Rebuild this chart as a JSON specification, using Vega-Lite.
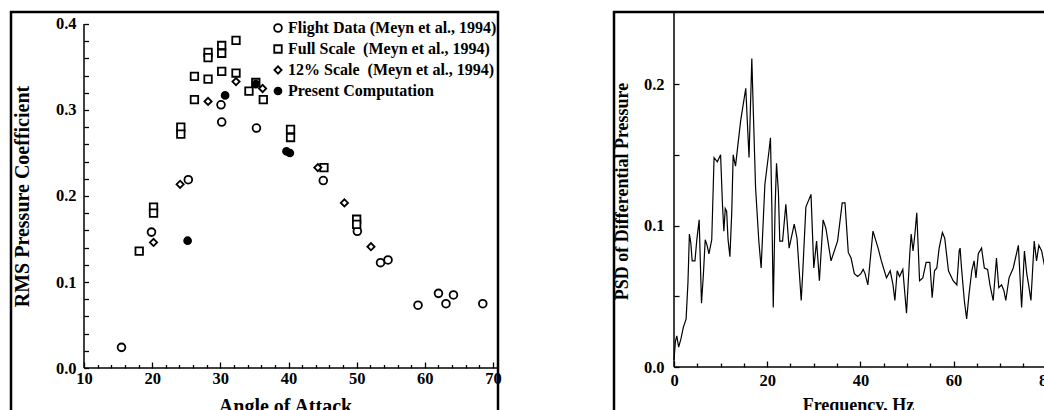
{
  "$schema": "https://vega.github.io/schema/vega-lite/v6.json",
  "background": "white",
  "padding": {"left": 9, "top": 10, "right": 0, "bottom": 0},
  "spacing": 116,
  "bounds": "flush",
  "config": {
    "view": {"stroke": "black", "strokeWidth": 2.5},
    "axis": {
      "grid": false,
      "domain": false,
      "labelOverlap": false,
      "labelFont": "Liberation Serif",
      "labelFontWeight": "bold",
      "labelColor": "black",
      "titleFont": "Liberation Serif",
      "titleFontWeight": "bold",
      "titleColor": "black",
      "tickColor": "black",
      "tickWidth": 1.3
    },
    "legend": {
      "orient": "none",
      "legendX": 259,
      "legendY": 8,
      "padding": 0,
      "labelFont": "Liberation Serif",
      "labelFontWeight": "bold",
      "labelFontSize": 16,
      "labelColor": "black",
      "labelLimit": 400,
      "labelOffset": 2,
      "rowPadding": 5,
      "symbolStrokeColor": "black",
      "symbolStrokeWidth": 1.8
    }
  },
  "hconcat": [
    {
      "width": 487,
      "height": 400,
      "resolve": {"axis": {"x": "independent", "y": "independent"}},
      "layer": [
        {
          "data": {
            "values": [
              {"series": "Flight Data (Meyn et al., 1994)", "aoa": 15.5, "rms": 0.024},
              {"series": "Flight Data (Meyn et al., 1994)", "aoa": 19.9, "rms": 0.158},
              {"series": "Flight Data (Meyn et al., 1994)", "aoa": 25.3, "rms": 0.219},
              {"series": "Flight Data (Meyn et al., 1994)", "aoa": 30.1, "rms": 0.306},
              {"series": "Flight Data (Meyn et al., 1994)", "aoa": 30.2, "rms": 0.286},
              {"series": "Flight Data (Meyn et al., 1994)", "aoa": 35.3, "rms": 0.279},
              {"series": "Flight Data (Meyn et al., 1994)", "aoa": 45.1, "rms": 0.218},
              {"series": "Flight Data (Meyn et al., 1994)", "aoa": 50.1, "rms": 0.159},
              {"series": "Flight Data (Meyn et al., 1994)", "aoa": 53.5, "rms": 0.1225},
              {"series": "Flight Data (Meyn et al., 1994)", "aoa": 54.6, "rms": 0.1256},
              {"series": "Flight Data (Meyn et al., 1994)", "aoa": 59.0, "rms": 0.073},
              {"series": "Flight Data (Meyn et al., 1994)", "aoa": 62.0, "rms": 0.0868},
              {"series": "Flight Data (Meyn et al., 1994)", "aoa": 63.1, "rms": 0.0748},
              {"series": "Flight Data (Meyn et al., 1994)", "aoa": 64.2, "rms": 0.0849},
              {"series": "Flight Data (Meyn et al., 1994)", "aoa": 68.5, "rms": 0.0748},
              {"series": "Full Scale\u00a0 (Meyn et al., 1994)", "aoa": 18.1, "rms": 0.136},
              {"series": "Full Scale\u00a0 (Meyn et al., 1994)", "aoa": 20.2, "rms": 0.187},
              {"series": "Full Scale\u00a0 (Meyn et al., 1994)", "aoa": 20.2, "rms": 0.180},
              {"series": "Full Scale\u00a0 (Meyn et al., 1994)", "aoa": 24.2, "rms": 0.280},
              {"series": "Full Scale\u00a0 (Meyn et al., 1994)", "aoa": 24.2, "rms": 0.272},
              {"series": "Full Scale\u00a0 (Meyn et al., 1994)", "aoa": 26.2, "rms": 0.339},
              {"series": "Full Scale\u00a0 (Meyn et al., 1994)", "aoa": 26.2, "rms": 0.312},
              {"series": "Full Scale\u00a0 (Meyn et al., 1994)", "aoa": 28.2, "rms": 0.367},
              {"series": "Full Scale\u00a0 (Meyn et al., 1994)", "aoa": 28.2, "rms": 0.361},
              {"series": "Full Scale\u00a0 (Meyn et al., 1994)", "aoa": 28.2, "rms": 0.336},
              {"series": "Full Scale\u00a0 (Meyn et al., 1994)", "aoa": 30.2, "rms": 0.375},
              {"series": "Full Scale\u00a0 (Meyn et al., 1994)", "aoa": 30.2, "rms": 0.366},
              {"series": "Full Scale\u00a0 (Meyn et al., 1994)", "aoa": 30.2, "rms": 0.345},
              {"series": "Full Scale\u00a0 (Meyn et al., 1994)", "aoa": 32.3, "rms": 0.381},
              {"series": "Full Scale\u00a0 (Meyn et al., 1994)", "aoa": 32.3, "rms": 0.343},
              {"series": "Full Scale\u00a0 (Meyn et al., 1994)", "aoa": 34.2, "rms": 0.322},
              {"series": "Full Scale\u00a0 (Meyn et al., 1994)", "aoa": 35.2, "rms": 0.332},
              {"series": "Full Scale\u00a0 (Meyn et al., 1994)", "aoa": 36.3, "rms": 0.312},
              {"series": "Full Scale\u00a0 (Meyn et al., 1994)", "aoa": 40.3, "rms": 0.2775},
              {"series": "Full Scale\u00a0 (Meyn et al., 1994)", "aoa": 40.3, "rms": 0.268},
              {"series": "Full Scale\u00a0 (Meyn et al., 1994)", "aoa": 45.2, "rms": 0.233},
              {"series": "Full Scale\u00a0 (Meyn et al., 1994)", "aoa": 50.0, "rms": 0.173},
              {"series": "Full Scale\u00a0 (Meyn et al., 1994)", "aoa": 50.0, "rms": 0.167},
              {"series": "12% Scale\u00a0 (Meyn et al., 1994)", "aoa": 20.2, "rms": 0.146},
              {"series": "12% Scale\u00a0 (Meyn et al., 1994)", "aoa": 24.1, "rms": 0.2136},
              {"series": "12% Scale\u00a0 (Meyn et al., 1994)", "aoa": 28.2, "rms": 0.310},
              {"series": "12% Scale\u00a0 (Meyn et al., 1994)", "aoa": 32.3, "rms": 0.333},
              {"series": "12% Scale\u00a0 (Meyn et al., 1994)", "aoa": 36.2, "rms": 0.325},
              {"series": "12% Scale\u00a0 (Meyn et al., 1994)", "aoa": 44.3, "rms": 0.233},
              {"series": "12% Scale\u00a0 (Meyn et al., 1994)", "aoa": 48.2, "rms": 0.192},
              {"series": "12% Scale\u00a0 (Meyn et al., 1994)", "aoa": 52.1, "rms": 0.141},
              {"series": "Present Computation", "aoa": 25.2, "rms": 0.148},
              {"series": "Present Computation", "aoa": 30.7, "rms": 0.317},
              {"series": "Present Computation", "aoa": 35.2, "rms": 0.330},
              {"series": "Present Computation", "aoa": 39.7, "rms": 0.252},
              {"series": "Present Computation", "aoa": 40.2, "rms": 0.250}
            ]
          },
          "mark": {"type": "point", "stroke": "black", "strokeWidth": 1.8, "opacity": 1},
          "encoding": {
            "x": {
              "field": "aoa", "type": "quantitative",
              "scale": {"domain": [-0.709, 70.733], "nice": false, "zero": false},
              "axis": {
                "orient": "bottom", "offset": -44,
                "values": [10,12,14,16,18,20,22,24,26,28,30,32,34,36,38,40,42,44,46,48,50,52,54,56,58,60,62,64,66,68,70],
                "labelExpr": "datum.value % 10 === 0 ? datum.label : ''",
                "tickSize": {"condition": {"test": "datum.value % 10 === 0", "value": -6}, "value": -3.5},
                "labelPadding": 8,
                "labelFontSize": 16.5,
                "title": "Angle of Attack",
                "titleFontSize": 20,
                "titlePadding": 7,
                "titleX": 274
              }
            },
            "y": {
              "field": "rms", "type": "quantitative",
              "scale": {"domain": [-0.05116, 0.41395], "nice": false, "zero": false},
              "axis": {
                "orient": "left", "offset": -73,
                "values": [0,0.02,0.04,0.06,0.08,0.1,0.12,0.14,0.16,0.18,0.2,0.22,0.24,0.26,0.28,0.3,0.32,0.34,0.36,0.38,0.4],
                "labelExpr": "abs(datum.value*10 - round(datum.value*10)) < 1e-6 ? format(datum.value, '.1f') : ''",
                "tickSize": -4.5,
                "labelPadding": 12.5,
                "labelFontSize": 16.5,
                "title": "RMS Pressure Coefficient",
                "titleFontSize": 20,
                "titlePadding": 23,
                "titleY": 184
              }
            },
            "shape": {
              "field": "series", "type": "nominal",
              "scale": {
                "domain": ["Flight Data (Meyn et al., 1994)", "Full Scale\u00a0 (Meyn et al., 1994)", "12% Scale\u00a0 (Meyn et al., 1994)", "Present Computation"],
                "range": ["circle", "square", "diamond", "circle"]
              },
              "legend": {"title": null}
            },
            "fill": {
              "field": "series", "type": "nominal",
              "scale": {
                "domain": ["Flight Data (Meyn et al., 1994)", "Full Scale\u00a0 (Meyn et al., 1994)", "12% Scale\u00a0 (Meyn et al., 1994)", "Present Computation"],
                "range": ["white", "white", "white", "black"]
              },
              "legend": {"title": null}
            },
            "stroke": {
              "field": "series", "type": "nominal",
              "scale": {
                "domain": ["Flight Data (Meyn et al., 1994)", "Full Scale\u00a0 (Meyn et al., 1994)", "12% Scale\u00a0 (Meyn et al., 1994)", "Present Computation"],
                "range": ["black", "black", "black", "black"]
              },
              "legend": {"title": null}
            },
            "size": {
              "field": "series", "type": "nominal",
              "scale": {
                "domain": ["Flight Data (Meyn et al., 1994)", "Full Scale\u00a0 (Meyn et al., 1994)", "12% Scale\u00a0 (Meyn et al., 1994)", "Present Computation"],
                "range": [60, 48, 52, 85]
              },
              "legend": {"title": null}
            }
          }
        },
        {
          "data": {"values": [{}]},
          "mark": {"type": "rule", "color": "black", "strokeWidth": 1.5},
          "encoding": {
            "x": {"datum": 10, "type": "quantitative", "scale": {"domain": [-0.709, 70.733], "nice": false, "zero": false}, "axis": null},
            "x2": {"datum": 70.7},
            "y": {"datum": 0, "type": "quantitative", "scale": {"domain": [-0.05116, 0.41395], "nice": false, "zero": false}, "axis": null}
          }
        },
        {
          "data": {"values": [{}]},
          "mark": {"type": "rule", "color": "black", "strokeWidth": 1.5},
          "encoding": {
            "x": {"datum": 10, "type": "quantitative", "scale": {"domain": [-0.709, 70.733], "nice": false, "zero": false}, "axis": null},
            "y": {"datum": 0, "type": "quantitative", "scale": {"domain": [-0.05116, 0.41395], "nice": false, "zero": false}, "axis": null},
            "y2": {"datum": 0.4}
          }
        }
      ]
    },
    {
      "width": 434,
      "height": 400,
      "resolve": {"axis": {"x": "independent", "y": "independent"}},
      "layer": [
        {
          "data": {
            "values": [
              {"f": 0.0, "psd": 0.005}, {"f": 0.3, "psd": 0.018}, {"f": 0.6, "psd": 0.022}, {"f": 1.0, "psd": 0.014},
              {"f": 1.5, "psd": 0.020}, {"f": 2.0, "psd": 0.028}, {"f": 2.6, "psd": 0.034}, {"f": 3.0, "psd": 0.060},
              {"f": 3.3, "psd": 0.094}, {"f": 3.6, "psd": 0.088}, {"f": 3.9, "psd": 0.075}, {"f": 4.5, "psd": 0.075},
              {"f": 4.9, "psd": 0.090}, {"f": 5.4, "psd": 0.104}, {"f": 5.9, "psd": 0.045}, {"f": 6.3, "psd": 0.065},
              {"f": 6.7, "psd": 0.090}, {"f": 7.1, "psd": 0.086}, {"f": 7.5, "psd": 0.080}, {"f": 8.1, "psd": 0.090},
              {"f": 8.6, "psd": 0.148}, {"f": 9.3, "psd": 0.145}, {"f": 10.0, "psd": 0.150}, {"f": 10.4, "psd": 0.115},
              {"f": 10.7, "psd": 0.096}, {"f": 11.0, "psd": 0.112}, {"f": 11.3, "psd": 0.110}, {"f": 11.6, "psd": 0.090},
              {"f": 12.0, "psd": 0.078}, {"f": 12.4, "psd": 0.110}, {"f": 12.7, "psd": 0.150}, {"f": 13.2, "psd": 0.142},
              {"f": 14.3, "psd": 0.174}, {"f": 15.4, "psd": 0.197}, {"f": 15.9, "psd": 0.162}, {"f": 16.1, "psd": 0.148},
              {"f": 16.7, "psd": 0.218}, {"f": 17.0, "psd": 0.183}, {"f": 17.5, "psd": 0.127}, {"f": 18.2, "psd": 0.089},
              {"f": 18.7, "psd": 0.070}, {"f": 19.5, "psd": 0.129}, {"f": 20.4, "psd": 0.153}, {"f": 20.7, "psd": 0.162},
              {"f": 21.0, "psd": 0.113}, {"f": 21.3, "psd": 0.042}, {"f": 21.7, "psd": 0.113}, {"f": 22.0, "psd": 0.144},
              {"f": 22.4, "psd": 0.124}, {"f": 22.7, "psd": 0.089}, {"f": 23.3, "psd": 0.089}, {"f": 24.0, "psd": 0.115},
              {"f": 24.7, "psd": 0.084}, {"f": 25.8, "psd": 0.101}, {"f": 26.4, "psd": 0.091}, {"f": 27.3, "psd": 0.047},
              {"f": 27.6, "psd": 0.065}, {"f": 28.3, "psd": 0.113}, {"f": 29.4, "psd": 0.122}, {"f": 30.0, "psd": 0.070},
              {"f": 30.6, "psd": 0.089}, {"f": 31.2, "psd": 0.061}, {"f": 32.0, "psd": 0.104}, {"f": 32.6, "psd": 0.098},
              {"f": 33.7, "psd": 0.075}, {"f": 35.1, "psd": 0.089}, {"f": 36.1, "psd": 0.116}, {"f": 36.7, "psd": 0.116},
              {"f": 37.4, "psd": 0.081}, {"f": 38.0, "psd": 0.077}, {"f": 38.7, "psd": 0.066}, {"f": 39.4, "psd": 0.064},
              {"f": 40.1, "psd": 0.066}, {"f": 40.6, "psd": 0.069}, {"f": 41.0, "psd": 0.066}, {"f": 41.6, "psd": 0.058},
              {"f": 42.7, "psd": 0.096}, {"f": 43.8, "psd": 0.084}, {"f": 44.5, "psd": 0.075}, {"f": 45.6, "psd": 0.063},
              {"f": 46.4, "psd": 0.068}, {"f": 47.0, "psd": 0.058}, {"f": 47.4, "psd": 0.047}, {"f": 47.9, "psd": 0.068},
              {"f": 48.4, "psd": 0.064}, {"f": 49.1, "psd": 0.069}, {"f": 49.9, "psd": 0.038}, {"f": 50.6, "psd": 0.080},
              {"f": 50.9, "psd": 0.094}, {"f": 51.3, "psd": 0.082}, {"f": 51.7, "psd": 0.094}, {"f": 52.1, "psd": 0.109},
              {"f": 52.7, "psd": 0.061}, {"f": 53.4, "psd": 0.063}, {"f": 54.1, "psd": 0.074}, {"f": 54.9, "psd": 0.074},
              {"f": 55.4, "psd": 0.049}, {"f": 55.9, "psd": 0.068}, {"f": 56.4, "psd": 0.070}, {"f": 56.9, "psd": 0.084},
              {"f": 57.6, "psd": 0.095}, {"f": 58.1, "psd": 0.091}, {"f": 58.9, "psd": 0.068}, {"f": 59.9, "psd": 0.061},
              {"f": 60.7, "psd": 0.058}, {"f": 61.2, "psd": 0.082}, {"f": 61.4, "psd": 0.084}, {"f": 61.7, "psd": 0.070},
              {"f": 62.3, "psd": 0.047}, {"f": 62.8, "psd": 0.034}, {"f": 63.3, "psd": 0.051}, {"f": 63.9, "psd": 0.068},
              {"f": 64.4, "psd": 0.075}, {"f": 64.8, "psd": 0.063}, {"f": 65.3, "psd": 0.080}, {"f": 66.0, "psd": 0.084},
              {"f": 66.6, "psd": 0.070}, {"f": 67.3, "psd": 0.069}, {"f": 67.8, "psd": 0.058}, {"f": 68.5, "psd": 0.047},
              {"f": 69.2, "psd": 0.077}, {"f": 69.7, "psd": 0.056}, {"f": 70.3, "psd": 0.058}, {"f": 70.8, "psd": 0.054},
              {"f": 71.2, "psd": 0.047}, {"f": 71.9, "psd": 0.063}, {"f": 72.8, "psd": 0.070}, {"f": 73.9, "psd": 0.086},
              {"f": 74.6, "psd": 0.042}, {"f": 75.2, "psd": 0.082}, {"f": 75.7, "psd": 0.066}, {"f": 76.1, "psd": 0.058},
              {"f": 76.6, "psd": 0.047}, {"f": 77.3, "psd": 0.089}, {"f": 77.8, "psd": 0.075}, {"f": 78.3, "psd": 0.086},
              {"f": 78.9, "psd": 0.082}, {"f": 79.6, "psd": 0.070}, {"f": 80.5, "psd": 0.060}
            ]
          },
          "mark": {"type": "line", "color": "black", "strokeWidth": 1.2, "clip": true},
          "encoding": {
            "x": {
              "field": "f", "type": "quantitative",
              "scale": {"domain": [-12.876, 80.26], "nice": false, "zero": false},
              "axis": {
                "orient": "bottom", "offset": -45,
                "values": [0,5,10,15,20,25,30,35,40,45,50,55,60,65,70,75,80],
                "labelExpr": "datum.value % 20 === 0 ? datum.label : ''",
                "tickSize": {"condition": {"test": "datum.value % 20 === 0", "value": -6}, "value": -4},
                "labelPadding": 11,
                "labelFontSize": 16.5,
                "title": "Frequency, Hz",
                "titleFontSize": 18,
                "titlePadding": 6,
                "titleX": 244
              }
            },
            "y": {
              "field": "psd", "type": "quantitative",
              "scale": {"domain": [-0.0318, 0.2509], "nice": false, "zero": false},
              "axis": {
                "orient": "left", "offset": -60,
                "values": [0, 0.05, 0.1, 0.15, 0.2],
                "labelExpr": "abs(datum.value*10 - round(datum.value*10)) < 1e-6 ? format(datum.value, '.1f') : ''",
                "labelAlign": "right",
                "tickSize": -5,
                "labelPadding": 15,
                "labelFontSize": 16.5,
                "title": "PSD of Differential Pressure",
                "titleFontSize": 18,
                "titlePadding": 12,
                "titleY": 179
              }
            }
          }
        },
        {
          "data": {"values": [{}]},
          "mark": {"type": "rule", "color": "black", "strokeWidth": 1.5},
          "encoding": {
            "x": {"datum": 0, "type": "quantitative", "scale": {"domain": [-12.876, 80.26], "nice": false, "zero": false}, "axis": null},
            "x2": {"datum": 80.26},
            "y": {"datum": 0, "type": "quantitative", "scale": {"domain": [-0.0318, 0.2509], "nice": false, "zero": false}, "axis": null}
          }
        },
        {
          "data": {"values": [{}]},
          "mark": {"type": "rule", "color": "black", "strokeWidth": 1.5},
          "encoding": {
            "x": {"datum": 0, "type": "quantitative", "scale": {"domain": [-12.876, 80.26], "nice": false, "zero": false}, "axis": null},
            "y": {"datum": 0, "type": "quantitative", "scale": {"domain": [-0.0318, 0.2509], "nice": false, "zero": false}, "axis": null},
            "y2": {"datum": 0.2509}
          }
        }
      ]
    }
  ]
}
